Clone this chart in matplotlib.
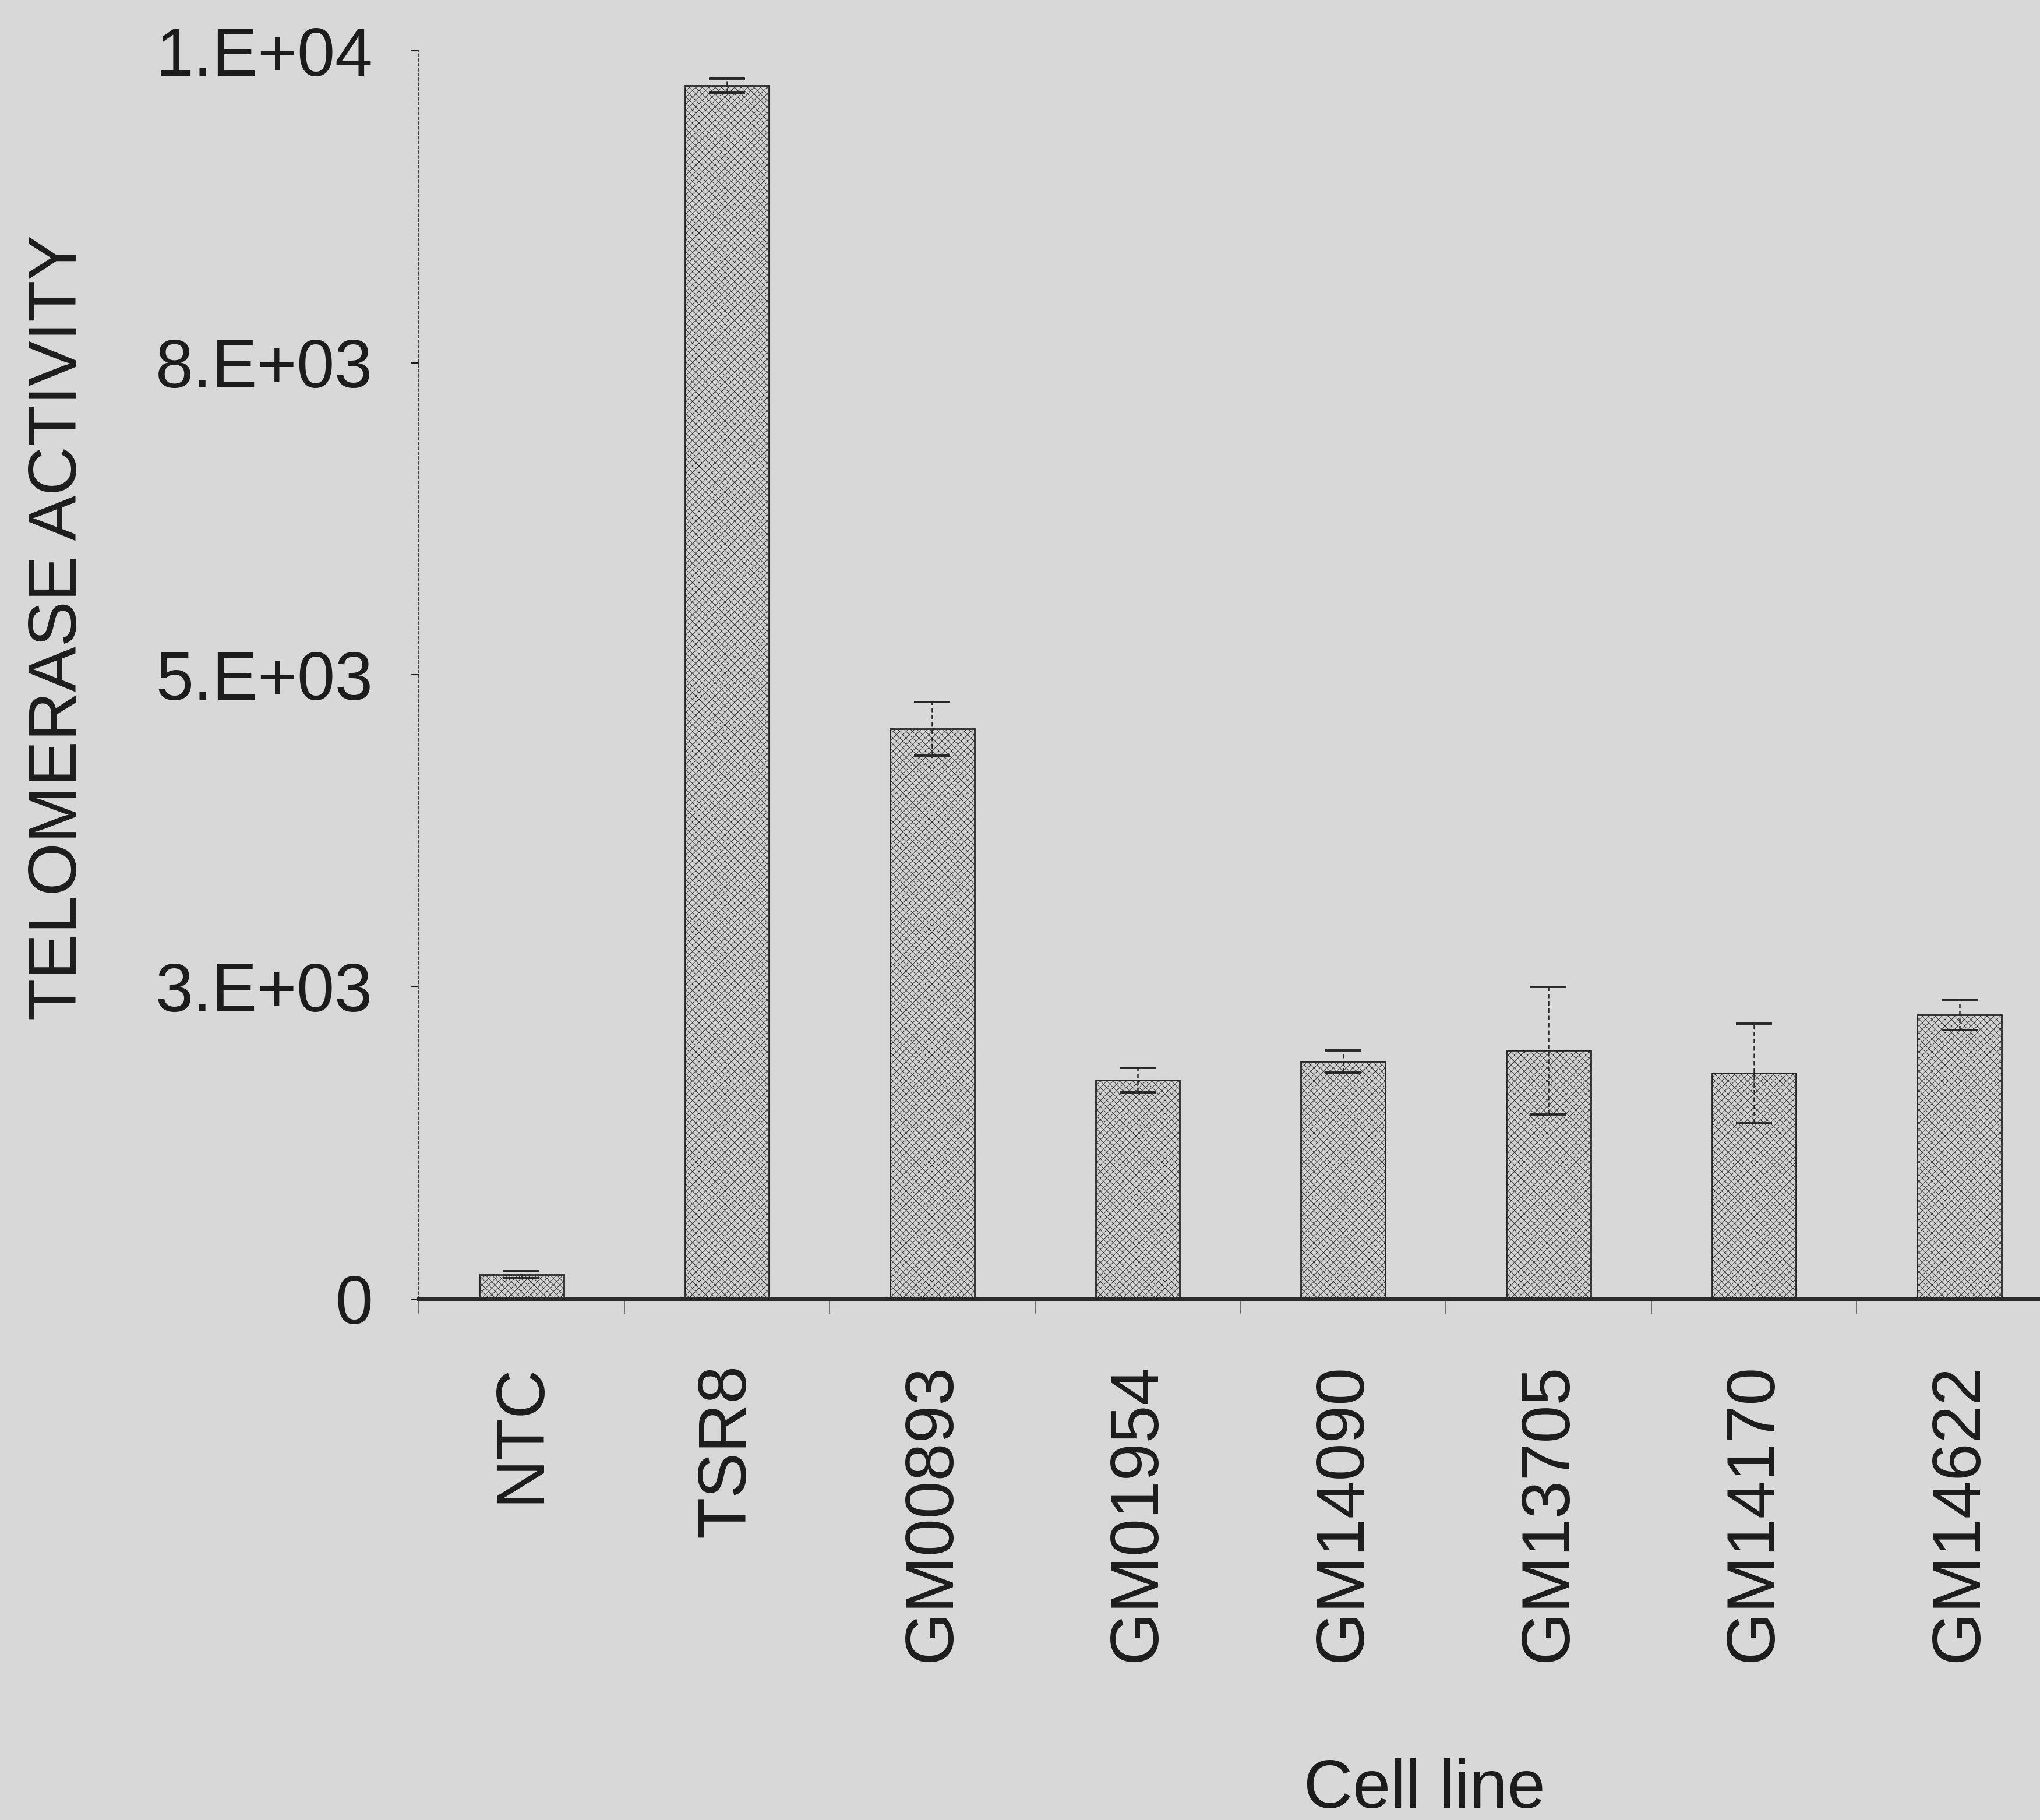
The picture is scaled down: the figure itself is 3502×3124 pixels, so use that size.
import matplotlib
matplotlib.use('Agg')
import matplotlib.pyplot as plt
import numpy as np

# telomerase activity per cell line (mean and error)
cell_lines = ['NTC', 'TSR8', 'GM00893', 'GM01954', 'GM14090', 'GM13705', 'GM14170', 'GM14622']
activity = [196, 9722, 4568, 1754, 1901, 1990, 1807, 2276]
activity_err = [28, 55, 215, 99, 88, 512, 400, 120]

y_ticks = [0, 2500, 5000, 7500, 10000]
y_tick_labels = ['0', '3.E+03', '5.E+03', '8.E+03', '1.E+04']

BG = '#d8d8d8'
INK = '#1c1c1c'

plt.rcParams['font.family'] = ['Liberation Sans', 'DejaVu Sans']
plt.rcParams['hatch.color'] = '#8e8e8e'
plt.rcParams['hatch.linewidth'] = 0.6

fig = plt.figure(figsize=(35.02, 31.24), dpi=100, facecolor=BG)
ax = fig.add_axes([0.2053, 0.2863, 0.8055, 0.6858])
ax.set_facecolor('none')

x = np.arange(len(cell_lines))
ax.bar(x, activity, width=0.41, color='#d2d2d2', edgecolor='#262626',
       linewidth=2.0, hatch='xxx', zorder=2)
eb = ax.errorbar(x, activity, yerr=activity_err, fmt='none', ecolor='#262626',
                 elinewidth=1.8, capsize=22, capthick=2.8, zorder=3)
eb[2][0].set_linestyle((0, (3, 2)))

ax.set_xlim(-0.5, 7.5)
ax.set_ylim(0, 10000)

ax.set_yticks(y_ticks)
ax.set_yticklabels(y_tick_labels)
ax.tick_params(axis='y', length=10, width=1.5, pad=47, labelsize=84, colors=INK)

ax.set_xticks(x)
ax.set_xticklabels(cell_lines, rotation=90, va='top', ha='center')
ax.tick_params(axis='x', which='major', length=0, pad=80, labelsize=84, colors=INK)
ax.set_xticks(np.arange(-0.5, 7.6, 1), minor=True)
ax.tick_params(axis='x', which='minor', length=18, width=1.3, color='#666666')

for side in ['top', 'right']:
    ax.spines[side].set_visible(False)
ax.spines['bottom'].set_linewidth(4.5)
ax.spines['bottom'].set_color('#2a2a2a')
ax.spines['left'].set_linestyle((0, (2, 2)))
ax.spines['left'].set_linewidth(1.5)
ax.spines['left'].set_color('#444444')

ax.set_ylabel('TELOMERASE ACTIVITY', fontsize=84, color=INK)
ax.yaxis.set_label_coords(-0.20, 0.538)
ax.set_xlabel('Cell line', fontsize=84, color=INK)
ax.xaxis.set_label_coords(0.612, -0.368)

fig.savefig('out.png', dpi=100, facecolor=BG)
